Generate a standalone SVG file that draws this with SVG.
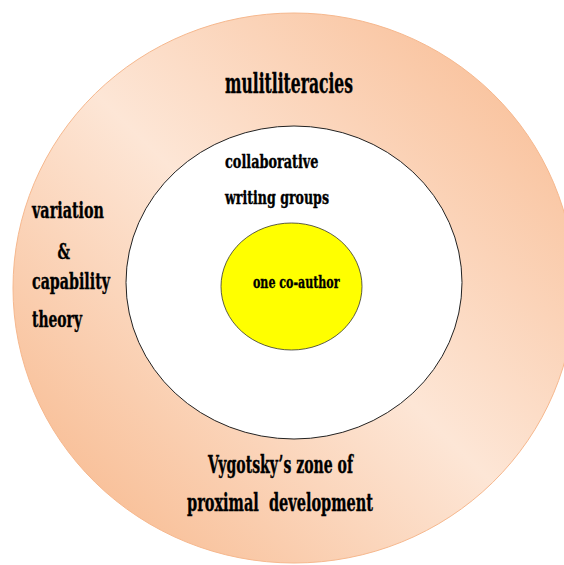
<svg xmlns="http://www.w3.org/2000/svg" width="564" height="565" viewBox="0 0 564 565">
  <defs>
    <linearGradient id="peach" x1="0.1" y1="0.9" x2="0.9" y2="0.1">
      <stop offset="0" stop-color="#F8BD94"/>
      <stop offset="0.5" stop-color="#FDE6D6"/>
      <stop offset="1" stop-color="#F9C19B"/>
    </linearGradient>
  </defs>
  <style>
    .t { font-family: "DejaVu Serif", "Liberation Serif", serif; font-weight: bold; fill: #000; stroke: #000; stroke-width: 0.4; white-space: pre; }
  </style>
  <rect width="564" height="565" fill="#FFFFFF"/>
  <g id="outer">
    <ellipse cx="294" cy="288" rx="281" ry="275" fill="url(#peach)" stroke="#F6B88E" stroke-width="1"/>
    <text class="t" x="225" y="93" font-size="28" textLength="128" lengthAdjust="spacingAndGlyphs">mulitliteracies</text>
    <text class="t" x="32" y="218" font-size="22" textLength="72" lengthAdjust="spacingAndGlyphs">variation</text>
    <text class="t" x="57.5" y="259" font-size="22" textLength="12.5" lengthAdjust="spacingAndGlyphs">&amp;</text>
    <text class="t" x="32" y="289" font-size="22" textLength="78" lengthAdjust="spacingAndGlyphs">capability</text>
    <text class="t" x="32" y="327" font-size="22" textLength="50" lengthAdjust="spacingAndGlyphs">theory</text>
    <text class="t" x="208" y="473" font-size="25" textLength="145" lengthAdjust="spacingAndGlyphs">Vygotsky’s zone of</text>
    <text class="t" x="187" y="511" font-size="25" textLength="186" lengthAdjust="spacingAndGlyphs">proximal  development</text>
  </g>
  <g id="middle">
    <ellipse cx="294" cy="282.5" rx="168" ry="156.5" fill="#FFFFFF" stroke="#222" stroke-width="1"/>
    <text class="t" x="225" y="168" font-size="19" textLength="93.5" lengthAdjust="spacingAndGlyphs">collaborative</text>
    <text class="t" x="225" y="203.5" font-size="19" textLength="104" lengthAdjust="spacingAndGlyphs">writing groups</text>
  </g>
  <g id="inner">
    <ellipse cx="291.5" cy="286.5" rx="70.5" ry="63.5" fill="#FFFF00" stroke="#333" stroke-width="0.8"/>
    <text class="t" x="253" y="288.3" font-size="17" textLength="86.5" lengthAdjust="spacingAndGlyphs">one co-author</text>
  </g>
  <g id="connectors"/>
</svg>
